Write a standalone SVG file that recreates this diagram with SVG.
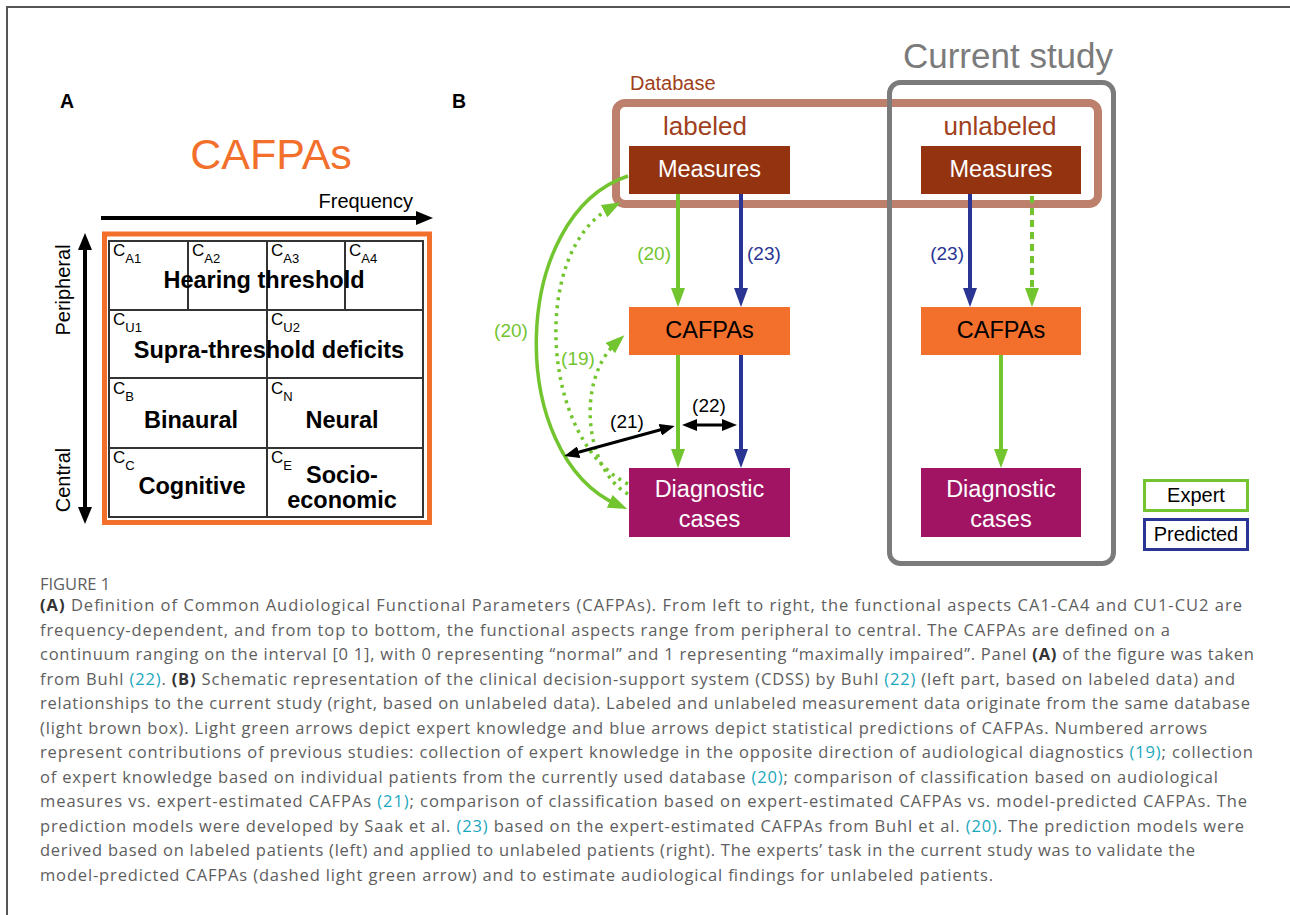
<svg xmlns="http://www.w3.org/2000/svg" width="1290" height="915" viewBox="0 0 1290 915">
<style>
.s{font-family:"Liberation Sans",Arial,sans-serif}
.b{font-weight:bold}
.cell{font-family:"Liberation Sans",Arial,sans-serif;font-weight:bold;font-size:23.5px;text-anchor:middle;fill:#000}
.cl{font-family:"Liberation Sans",Arial,sans-serif;font-size:17px;fill:#000}
.sub{font-size:13px}
.box{font-family:"Liberation Sans",Arial,sans-serif;font-size:23.5px;text-anchor:middle}
.num{font-family:"Liberation Sans",Arial,sans-serif;font-size:19px}
.cap{font-family:"Open Sans","Noto Sans",sans-serif;font-size:16.5px;fill:#5e5e5e}
.lnk{fill:#1aa7bd}
.cb{font-weight:bold;fill:#333}
.g{stroke:#72c52f;fill:none}
.bl{stroke:#2a3593;fill:none}
</style>
<defs>
<marker id="ag" markerUnits="userSpaceOnUse" markerWidth="20" markerHeight="14" refX="9" refY="7" orient="auto"><path d="M0,0 L19,7 L0,14 z" fill="#72c52f"/></marker>
<marker id="ab" markerUnits="userSpaceOnUse" markerWidth="20" markerHeight="14" refX="9" refY="7" orient="auto"><path d="M0,0 L19,7 L0,14 z" fill="#2a3593"/></marker>
<marker id="ak" markerUnits="userSpaceOnUse" markerWidth="16" markerHeight="12" refX="7" refY="6" orient="auto-start-reverse"><path d="M0,0 L15,6 L0,12 z" fill="#000"/></marker>
<marker id="akA" markerUnits="userSpaceOnUse" markerWidth="18" markerHeight="14" refX="8" refY="7" orient="auto-start-reverse"><path d="M0,0 L17,7 L0,14 z" fill="#000"/></marker>
</defs>
<rect width="1290" height="915" fill="#fff"/>
<!-- page frame -->
<path d="M7,915 L7,7 L1290,7" fill="none" stroke="#555" stroke-width="2"/>

<!-- Panel A -->
<g id="panelA">
<text x="60" y="108" class="s b" font-size="19.5">A</text>
<text x="271" y="169" class="s" font-size="43" fill="#f26f2c" text-anchor="middle">CAFPAs</text>
<text x="413" y="208" class="s" font-size="20" text-anchor="end">Frequency</text>
<line x1="101" y1="218" x2="424" y2="218" stroke="#000" stroke-width="4" marker-end="url(#akA)"/>
<line x1="85" y1="242" x2="85" y2="515" stroke="#000" stroke-width="4" marker-start="url(#akA)" marker-end="url(#akA)"/>
<text transform="translate(70,290) rotate(-90)" class="s" font-size="20" text-anchor="middle">Peripheral</text>
<text transform="translate(70,480) rotate(-90)" class="s" font-size="20" text-anchor="middle">Central</text>
<rect x="104.5" y="234" width="325" height="288.5" fill="#fff" stroke="#f26f2c" stroke-width="5"/>
<g fill="none" stroke="#333" stroke-width="2">
<rect x="109" y="241" width="314" height="276"/>
<line x1="109" y1="310" x2="423" y2="310"/>
<line x1="109" y1="378" x2="423" y2="378"/>
<line x1="109" y1="448" x2="423" y2="448"/>
<line x1="188" y1="241" x2="188" y2="310"/>
<line x1="267" y1="241" x2="267" y2="517"/>
<line x1="345" y1="241" x2="345" y2="310"/>
</g>
<text x="113" y="256" class="cl">C<tspan class="sub" dy="7">A1</tspan></text>
<text x="192" y="256" class="cl">C<tspan class="sub" dy="7">A2</tspan></text>
<text x="271" y="256" class="cl">C<tspan class="sub" dy="7">A3</tspan></text>
<text x="349" y="256" class="cl">C<tspan class="sub" dy="7">A4</tspan></text>
<text x="113" y="325" class="cl">C<tspan class="sub" dy="7">U1</tspan></text>
<text x="271" y="325" class="cl">C<tspan class="sub" dy="7">U2</tspan></text>
<text x="113" y="394" class="cl">C<tspan class="sub" dy="7">B</tspan></text>
<text x="271" y="394" class="cl">C<tspan class="sub" dy="7">N</tspan></text>
<text x="113" y="463" class="cl">C<tspan class="sub" dy="7">C</tspan></text>
<text x="271" y="463" class="cl">C<tspan class="sub" dy="7">E</tspan></text>
<text x="264" y="288" class="cell">Hearing threshold</text>
<text x="269" y="358" class="cell">Supra-threshold deficits</text>
<text x="191" y="428" class="cell">Binaural</text>
<text x="342" y="428" class="cell">Neural</text>
<text x="192" y="494" class="cell">Cognitive</text>
<text x="342" y="483" class="cell">Socio-</text>
<text x="342" y="508" class="cell">economic</text>
</g>

<!-- Panel B -->
<text x="452" y="108" class="s b" font-size="19.5">B</text>
<g id="database">
<text x="630" y="90" class="s" font-size="20" fill="#a0401c">Database</text>
<rect x="616" y="103" width="482" height="101" rx="9" fill="none" stroke="#bd806c" stroke-width="8"/>
<text x="705" y="135" class="s" font-size="26" fill="#a0401c" text-anchor="middle">labeled</text>
<text x="1000" y="135" class="s" font-size="26" fill="#a0401c" text-anchor="middle">unlabeled</text>
</g>
<g id="current-study">
<text x="1008" y="68" class="s" font-size="35" fill="#7b7b7b" text-anchor="middle">Current study</text>
<rect x="889.5" y="82.5" width="224" height="481" rx="11" fill="none" stroke="#7b7b7b" stroke-width="5"/>
</g>

<g id="measures-labeled">
<rect x="629" y="146" width="161" height="48" fill="#94330f"/>
<text x="709.5" y="177" class="box" fill="#fff">Measures</text>
</g>
<g id="cafpas-labeled">
<rect x="629" y="307" width="161" height="48" fill="#f26f2c"/>
<text x="709.5" y="338" class="box" fill="#000">CAFPAs</text>
</g>
<g id="diag-labeled">
<rect x="629" y="468" width="161" height="69" fill="#a11464"/>
<text x="709.5" y="497" class="box" fill="#fff">Diagnostic</text>
<text x="709.5" y="527" class="box" fill="#fff">cases</text>
</g>
<g id="measures-unlabeled">
<rect x="921" y="146" width="160" height="48" fill="#94330f"/>
<text x="1001" y="177" class="box" fill="#fff">Measures</text>
</g>
<g id="cafpas-unlabeled">
<rect x="921" y="307" width="160" height="48" fill="#f26f2c"/>
<text x="1001" y="338" class="box" fill="#000">CAFPAs</text>
</g>
<g id="diag-unlabeled">
<rect x="921" y="468" width="160" height="69" fill="#a11464"/>
<text x="1001" y="497" class="box" fill="#fff">Diagnostic</text>
<text x="1001" y="527" class="box" fill="#fff">cases</text>
</g>

<g id="legend">
<rect x="1144.5" y="480.5" width="103" height="30" fill="#fff" stroke="#72c52f" stroke-width="3"/>
<text x="1196" y="502" class="s" font-size="20" text-anchor="middle">Expert</text>
<rect x="1144.5" y="519.5" width="103" height="30" fill="#fff" stroke="#2a3593" stroke-width="3"/>
<text x="1196" y="541" class="s" font-size="20" text-anchor="middle">Predicted</text>
</g>

<g id="connectors">
<line x1="678" y1="194" x2="678" y2="297" class="g" stroke-width="4" marker-end="url(#ag)"/>
<line x1="741" y1="194" x2="741" y2="297" class="bl" stroke-width="4" marker-end="url(#ab)"/>
<line x1="678" y1="355" x2="678" y2="458" class="g" stroke-width="4" marker-end="url(#ag)"/>
<line x1="741" y1="355" x2="741" y2="458" class="bl" stroke-width="4" marker-end="url(#ab)"/>
<line x1="970" y1="194" x2="970" y2="297" class="bl" stroke-width="4" marker-end="url(#ab)"/>
<line x1="1032" y1="196" x2="1032" y2="297" class="g" stroke-width="4" stroke-dasharray="7 5" marker-end="url(#ag)"/>
<line x1="1001" y1="355" x2="1001" y2="458" class="g" stroke-width="4" marker-end="url(#ag)"/>
<path d="M628,176 C510,215 505,455 618,505" class="g" stroke-width="3.5" marker-end="url(#ag)"/>
<path d="M628,484 C540,440 530,250 612,207" class="g" stroke-width="3.5" stroke-dasharray="3 5" marker-end="url(#ag)"/>
<path d="M628,494 C585,470 575,380 617,342" class="g" stroke-width="3.5" stroke-dasharray="3 5" marker-end="url(#ag)"/>
<line x1="572" y1="454" x2="667" y2="428" stroke="#000" stroke-width="3" marker-start="url(#ak)" marker-end="url(#ak)"/>
<line x1="690" y1="425" x2="729" y2="425" stroke="#000" stroke-width="3" marker-start="url(#ak)" marker-end="url(#ak)"/>
<text x="671" y="260" class="num" fill="#72c52f" text-anchor="end">(20)</text>
<text x="747" y="260" class="num" fill="#2a3593">(23)</text>
<text x="964" y="260" class="num" fill="#2a3593" text-anchor="end">(23)</text>
<text x="511" y="337" class="num" fill="#72c52f" text-anchor="middle">(20)</text>
<text x="578" y="365" class="num" fill="#72c52f" text-anchor="middle">(19)</text>
<text x="627" y="428" class="num" fill="#000" text-anchor="middle">(21)</text>
<text x="709" y="412" class="num" fill="#000" text-anchor="middle">(22)</text>
</g>

<!-- Caption -->
<g id="caption">
<text x="40" y="590" class="cap" font-size="14" fill="#555">FIGURE 1</text>
<text x="40" y="611" class="cap" textLength="1202" lengthAdjust="spacing"><tspan class="cb">(A)</tspan> Definition of Common Audiological Functional Parameters (CAFPAs). From left to right, the functional aspects CA1-CA4 and CU1-CU2 are</text>
<text x="40" y="635.5" class="cap" textLength="1130" lengthAdjust="spacing">frequency-dependent, and from top to bottom, the functional aspects range from peripheral to central. The CAFPAs are defined on a</text>
<text x="40" y="660" class="cap" textLength="1214" lengthAdjust="spacing">continuum ranging on the interval [0 1], with 0 representing “normal” and 1 representing “maximally impaired”. Panel <tspan class="cb">(A)</tspan> of the figure was taken</text>
<text x="40" y="684.5" class="cap" textLength="1195" lengthAdjust="spacing">from Buhl <tspan class="lnk">(22)</tspan>. <tspan class="cb">(B)</tspan> Schematic representation of the clinical decision-support system (CDSS) by Buhl <tspan class="lnk">(22)</tspan> (left part, based on labeled data) and</text>
<text x="40" y="709" class="cap" textLength="1210" lengthAdjust="spacing">relationships to the current study (right, based on unlabeled data). Labeled and unlabeled measurement data originate from the same database</text>
<text x="40" y="733.5" class="cap" textLength="1167" lengthAdjust="spacing">(light brown box). Light green arrows depict expert knowledge and blue arrows depict statistical predictions of CAFPAs. Numbered arrows</text>
<text x="40" y="758" class="cap" textLength="1213" lengthAdjust="spacing">represent contributions of previous studies: collection of expert knowledge in the opposite direction of audiological diagnostics <tspan class="lnk">(19)</tspan>; collection</text>
<text x="40" y="782.5" class="cap" textLength="1178" lengthAdjust="spacing">of expert knowledge based on individual patients from the currently used database <tspan class="lnk">(20)</tspan>; comparison of classification based on audiological</text>
<text x="40" y="807" class="cap" textLength="1207" lengthAdjust="spacing">measures vs. expert-estimated CAFPAs <tspan class="lnk">(21)</tspan>; comparison of classification based on expert-estimated CAFPAs vs. model-predicted CAFPAs. The</text>
<text x="40" y="831.5" class="cap" textLength="1204" lengthAdjust="spacing">prediction models were developed by Saak et al. <tspan class="lnk">(23)</tspan> based on the expert-estimated CAFPAs from Buhl et al. <tspan class="lnk">(20)</tspan>. The prediction models were</text>
<text x="40" y="856" class="cap" textLength="1155" lengthAdjust="spacing">derived based on labeled patients (left) and applied to unlabeled patients (right). The experts’ task in the current study was to validate the</text>
<text x="40" y="880.5" class="cap" textLength="953" lengthAdjust="spacing">model-predicted CAFPAs (dashed light green arrow) and to estimate audiological findings for unlabeled patients.</text>
</g>
</svg>
